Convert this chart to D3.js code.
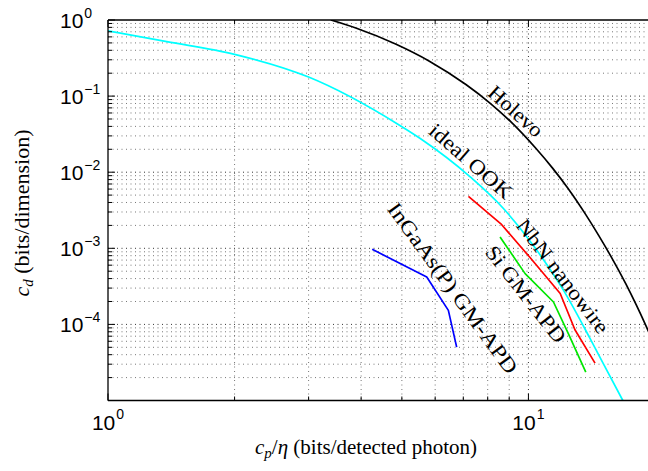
<!DOCTYPE html>
<html><head><meta charset="utf-8">
<script src="https://cdn.jsdelivr.net/npm/d3@7"></script>
<style>body{margin:0;background:#fff}</style>
</head><body>
<svg id="c" width="648" height="471"></svg>
<script>
// ---- data ----
const holevoX = [3.39, 3.9, 4.83, 5.8, 7.1, 8.1, 9.1, 10.4, 11.4, 12.4, 13.7, 14.7, 15.7, 17.05, 18.05, 19.05, 19.8];
const holevoY = [1.0, 0.78, 0.484, 0.29, 0.142, 0.081, 0.0455, 0.0208, 0.0114, 0.0062, 0.00275, 0.00147, 7.9e-4, 3.4e-4, 1.8e-4, 9.5e-5, 5.9e-5];
const ookX = [1.0, 1.38, 2.0, 3.0, 4.86, 5.53, 7.27, 8.72, 10.47, 12.12, 14.02, 15.09, 16.77];
const ookY = [0.72, 0.52, 0.354, 0.178, 0.0437, 0.0277, 0.00867, 0.00333, 9.4e-4, 2.8e-4, 6.5e-5, 3.0e-5, 1.0e-5];
const nbnX = [7.2, 8.6, 10.1, 11.9, 12.9, 14.4];
const nbnY = [0.0048, 0.0021, 7.5e-4, 2.55e-4, 8.5e-5, 3.1e-5];
const siX = [8.56, 9.82, 11.47, 12.45, 13.69];
const siY = [1.41e-3, 4.65e-4, 1.97e-4, 7.5e-5, 2.36e-5];
const ingaasX = [4.25, 5.73, 6.45, 6.75];
const ingaasY = [9.7e-4, 4.2e-4, 1.53e-4, 5.03e-5];
const xTickExps = [0, 1];
const yTickExps = [-4, -3, -2, -1, 0];
const curveLabels = ["Holevo", "ideal OOK", "NbN nanowire", "Si GM-APD", "InGaAs(P) GM-APD"];

// ---- layout ----
const L = 108, R = 655, T = 20, B = 400.5;
const svg = d3.select("#c");
const x = d3.scaleLog().domain([1, 20]).range([L, R]);
const y = d3.scaleLog().domain([1e-5, 1]).range([B, T]);

// grid values
const xGrid = [];
[1, 10].forEach(d => { for (let m = 1; m <= 9; m++) { const v = m * d; if (v >= 1 && v <= 20) xGrid.push(v); } });
xGrid.push(20);
const yGrid = [];
for (let e = -5; e <= -1; e++) for (let m = 1; m <= 9; m++) yGrid.push(m * Math.pow(10, e));
yGrid.push(1);
const isMajor = v => Math.abs(Math.log10(v) - Math.round(Math.log10(v))) < 1e-9;

const g = svg.append("g");
g.selectAll(".gx").data(xGrid.filter(v => v > 1)).enter().append("line")
  .attr("x1", d => x(d)).attr("x2", d => x(d)).attr("y1", T).attr("y2", B)
  .attr("stroke", d => isMajor(d) ? "#333" : "#777").attr("stroke-width", 1)
  .attr("stroke-dasharray", "1,3.5");
g.selectAll(".gy").data(yGrid.filter(v => v > 1e-5 && v < 1)).enter().append("line")
  .attr("y1", d => y(d)).attr("y2", d => y(d)).attr("x1", L).attr("x2", R)
  .attr("stroke", d => isMajor(d) ? "#333" : "#777").attr("stroke-width", 1)
  .attr("stroke-dasharray", "1,3.5");

// clip
svg.append("clipPath").attr("id", "clip").append("rect")
  .attr("x", L).attr("y", T).attr("width", R - L).attr("height", B - T);

const series = [
  {xs: ookX, ys: ookY, color: "#00ffff", curve: d3.curveMonotoneX},
  {xs: holevoX, ys: holevoY, color: "#000000", curve: d3.curveMonotoneX},
  {xs: nbnX, ys: nbnY, color: "#ff0000", curve: d3.curveLinear},
  {xs: siX, ys: siY, color: "#00e600", curve: d3.curveLinear},
  {xs: ingaasX, ys: ingaasY, color: "#0000ff", curve: d3.curveLinear}
];
const pg = svg.append("g").attr("clip-path", "url(#clip)");
series.forEach(s => {
  const pts = s.xs.map((v, i) => [v, s.ys[i]]);
  pg.append("path").datum(pts)
    .attr("d", d3.line().x(d => x(d[0])).y(d => y(d[1])).curve(s.curve))
    .attr("fill", "none").attr("stroke", s.color).attr("stroke-width", 1.7)
    .attr("stroke-linejoin", "round");
});

// axes frame
const ax = svg.append("g").attr("stroke", "#000").attr("stroke-width", 1.3);
ax.append("line").attr("x1", L).attr("x2", R).attr("y1", T).attr("y2", T);
ax.append("line").attr("x1", L).attr("x2", R).attr("y1", B).attr("y2", B);
ax.append("line").attr("x1", L).attr("x2", L).attr("y1", T).attr("y2", B);
// ticks (inside)
xGrid.forEach(v => {
  const len = isMajor(v) ? 7 : 4;
  ax.append("line").attr("x1", x(v)).attr("x2", x(v)).attr("y1", B).attr("y2", B - len).attr("stroke-width", 1);
  ax.append("line").attr("x1", x(v)).attr("x2", x(v)).attr("y1", T).attr("y2", T + len).attr("stroke-width", 1);
});
yGrid.forEach(v => {
  const len = isMajor(v) ? 7 : 4;
  ax.append("line").attr("x1", L).attr("x2", L + len).attr("y1", y(v)).attr("y2", y(v)).attr("stroke-width", 1);
});

// tick labels
const sans = "'Liberation Sans', Arial, sans-serif";
yTickExps.forEach(e => {
  const t = svg.append("text").attr("x", 60).attr("y", y(Math.pow(10, e)) + 7.5)
    .attr("font-family", sans).attr("font-size", 21).attr("fill", "#000");
  t.append("tspan").text("10");
  t.append("tspan").attr("dy", -9.5).attr("dx", 1).attr("font-size", 14).text(e < 0 ? "\u2212" + (-e) : String(e));
});
xTickExps.forEach(e => {
  const t = svg.append("text").attr("x", x(Math.pow(10, e))).attr("y", 430)
    .attr("text-anchor", "middle").attr("font-family", sans).attr("font-size", 21).attr("fill", "#000");
  t.append("tspan").text("10");
  t.append("tspan").attr("dy", -11).attr("dx", 1).attr("font-size", 14).text(String(e));
});

// axis titles
const serif = "'Liberation Serif', 'Times New Roman', serif";
const xl = svg.append("text").attr("x", 366).attr("y", 454).attr("text-anchor", "middle")
  .attr("font-family", serif).attr("font-size", 21).attr("fill", "#000");
xl.append("tspan").attr("font-style", "italic").text("c");
xl.append("tspan").attr("font-style", "italic").attr("font-size", 15).attr("dy", 4).text("p");
xl.append("tspan").attr("dy", -4).text("/");
xl.append("tspan").attr("font-style", "italic").text("\u03b7");
xl.append("tspan").text(" (bits/detected photon)");

const yl = svg.append("text").attr("transform", "translate(29,213) rotate(-90)").attr("text-anchor", "middle")
  .attr("font-family", serif).attr("font-size", 22).attr("fill", "#000");
yl.append("tspan").attr("font-style", "italic").text("c");
yl.append("tspan").attr("font-style", "italic").attr("font-size", 15).attr("dy", 4).text("d");
yl.append("tspan").attr("dy", -4).text(" (bits/dimension)");

// curve labels
const labelPos = [
  {cx: 516, cy: 111, a: 42, len: 66},
  {cx: 471, cy: 161, a: 41, len: 103},
  {cx: 563, cy: 276, a: 52.5, len: 138},
  {cx: 526, cy: 294, a: 52, len: 117},
  {cx: 453, cy: 288, a: 54, len: 206}
];
curveLabels.forEach((txt, i) => {
  const p = labelPos[i];
  svg.append("text").attr("transform", `translate(${p.cx},${p.cy}) rotate(${p.a})`)
    .attr("text-anchor", "middle").attr("dy", "0.35em")
    .attr("font-family", serif).attr("font-size", 21).attr("fill", "#000")
    .attr("textLength", p.len).attr("lengthAdjust", "spacingAndGlyphs")
    .text(txt);
});
</script>
</body></html>
